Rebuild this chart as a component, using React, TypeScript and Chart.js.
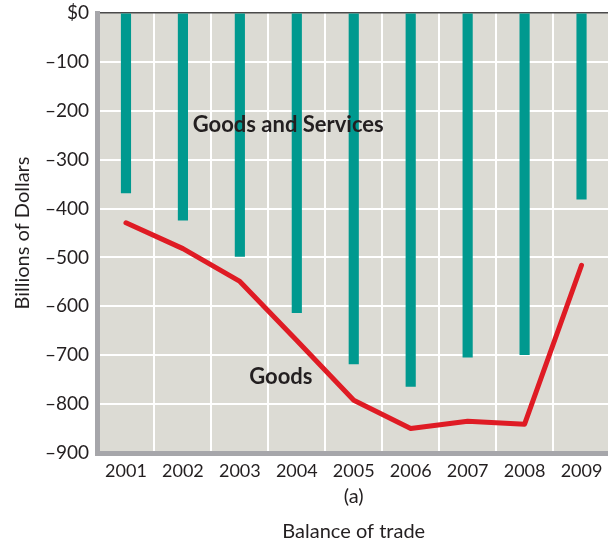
import React, { useEffect, useRef } from "react";
import { Chart, registerables } from "chart.js";

Chart.register(...registerables);

const years = ["2001", "2002", "2003", "2004", "2005", "2006", "2007", "2008", "2009"];
const goodsAndServices = [-368, -424, -498, -613, -718, -764, -704, -699, -381];
const goods = [-429, -482, -549, -670, -792, -850, -835, -841, -516];
const yMin = -900;
const yMax = 0;
const yStep = 100;
const yTitle = "Billions of Dollars";
const xTitle = ["(a)", "Balance of trade"];
const labelGS = { text: "Goods and Services", index: 2.85, value: -228 };
const labelGoods = { text: "Goods", index: 2.72, value: -745 };

const FONT = "Lato, 'Open Sans', sans-serif";
const TEXT = "#231f20";
const BG = "#dcdbd4";
const TEAL = "#00998f";
const RED = "#df1b24";
const BORDER = "#a6a6aa";

export default function App() {
  const ref = useRef<HTMLCanvasElement | null>(null);

  useEffect(() => {
    if (!ref.current) return;
    const bgPlugin = {
      id: "bgFill",
      beforeDraw(chart: any) {
        const { ctx, chartArea } = chart;
        ctx.save();
        ctx.fillStyle = BG;
        ctx.fillRect(chartArea.left, chartArea.top, chartArea.right - chartArea.left, chartArea.bottom - chartArea.top);
        ctx.restore();
      },
    };
    const labelPlugin = {
      id: "seriesLabels",
      afterDatasetsDraw(chart: any) {
        const { ctx, scales } = chart;
        ctx.save();
        ctx.fillStyle = TEXT;
        ctx.font = `bold 22px ${FONT}`;
        ctx.textAlign = "center";
        ctx.textBaseline = "middle";
        for (const l of [labelGS, labelGoods]) {
          ctx.fillText(l.text, scales.x.getPixelForValue(l.index), scales.y.getPixelForValue(l.value));
        }
        ctx.restore();
      },
    };
    const chart = new Chart(ref.current, {
      type: "bar",
      data: {
        labels: years,
        datasets: [
          {
            type: "line",
            label: "Goods",
            data: goods,
            borderColor: RED,
            backgroundColor: RED,
            borderWidth: 5,
            pointRadius: 0,
            tension: 0,
            borderCapStyle: "round",
            borderJoinStyle: "round",
            order: 0,
          } as any,
          {
            type: "bar",
            label: "Goods and Services",
            data: goodsAndServices,
            backgroundColor: TEAL,
            barThickness: 9.5,
            order: 1,
          },
        ],
      },
      options: {
        responsive: false,
        animation: false,
        layout: { padding: { top: 13, right: 10, left: 0, bottom: 0 } },
        plugins: { legend: { display: false }, tooltip: { enabled: false } },
        scales: {
          x: {
            offset: true,
            grid: { offset: true, color: "#ffffff", lineWidth: 2, drawTicks: false },
            border: { display: true, color: BORDER, width: 5 },
            ticks: { font: { family: FONT, size: 18 }, color: TEXT, padding: 7, maxRotation: 0 },
            title: {
              display: true,
              text: xTitle,
              color: TEXT,
              font: { family: FONT, size: 20, lineHeight: "35px" },
              padding: { top: 0, bottom: -7.5 },
            },
            afterFit: (s: any) => {
              s.height = 89;
              s.paddingLeft = 0;
              s.paddingRight = 0;
            },
          },
          y: {
            min: yMin,
            max: yMax,
            grid: {
              color: (c: any) => (c.tick && c.tick.value === 0 ? "#4a4a4a" : "#ffffff"),
              lineWidth: (c: any) => (c.tick && c.tick.value === 0 ? 1.5 : 2),
              drawTicks: false,
            },
            border: { display: true, color: BORDER, width: 5 },
            ticks: {
              stepSize: yStep,
              font: { family: FONT, size: 19 },
              color: TEXT,
              padding: 8.5,
              callback: (v: any) => (Number(v) === 0 ? "$0" : "\u2013" + Math.abs(Number(v))),
            },
            title: {
              display: true,
              text: yTitle,
              color: TEXT,
              font: { family: FONT, size: 20 },
              padding: { top: 11, bottom: 0 },
            },
            afterFit: (s: any) => {
              s.width = 97.5;
              s.paddingTop = 0;
              s.paddingBottom = 0;
            },
          },
        },
      },
      plugins: [bgPlugin, labelPlugin],
    });
    return () => chart.destroy();
  }, []);

  return (
    <div style={{ position: "fixed", left: 0, top: 0, width: 608, height: 542, overflow: "hidden", background: "#fff" }}>
      <canvas ref={ref} width={620} height={542} style={{ width: 620, height: 542, display: "block" }} />
    </div>
  );
}
